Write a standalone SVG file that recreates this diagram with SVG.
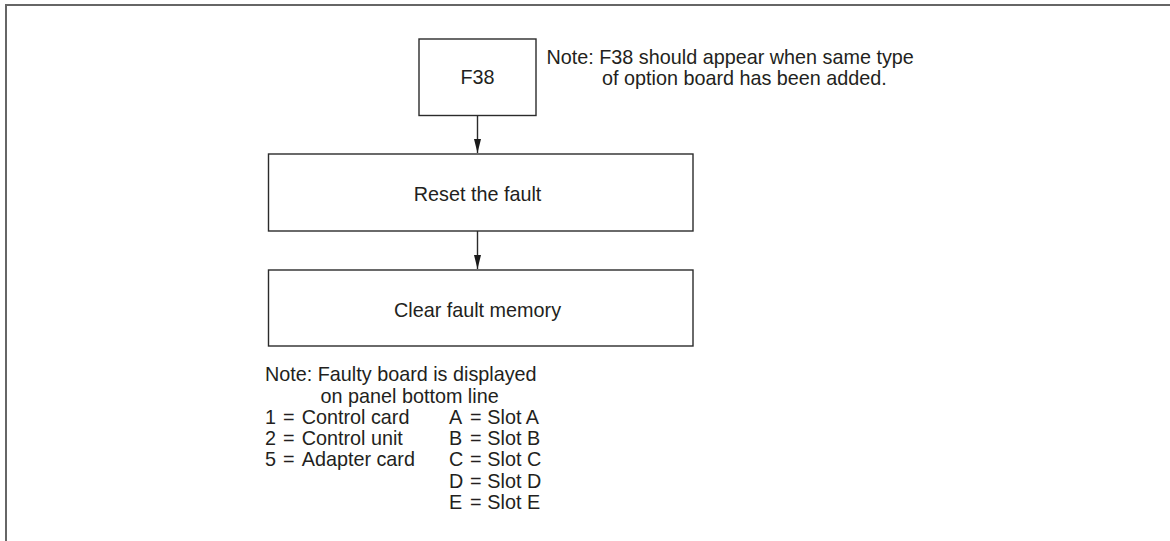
<svg xmlns="http://www.w3.org/2000/svg" width="1170" height="541" viewBox="0 0 1170 541">
  <style>
    .frame { fill: none; stroke: #666666; stroke-width: 2; }
    .box { fill: #ffffff; stroke: #2b2b2b; stroke-width: 1.4; }
    .conn { fill: none; stroke: #2b2b2b; stroke-width: 1.4; }
    text { font-family: "Liberation Sans", Arial, Helvetica, sans-serif; font-size: 19.8px; fill: #231f20; }
    .c { text-anchor: middle; }
  </style>
  <defs>
    <marker id="ah" viewBox="0 0 14 7" refX="14" refY="3.5" markerWidth="14" markerHeight="7" markerUnits="userSpaceOnUse" orient="auto">
      <path d="M0,0 L14,3.5 L0,7 Z" fill="#1a1a1a"/>
    </marker>
  </defs>

  <rect class="frame" x="6" y="5" width="1200" height="600"/>

  <g id="connectors">
    <line class="conn" x1="477.5" y1="115.5" x2="477.5" y2="153" marker-end="url(#ah)"/>
    <line class="conn" x1="477.5" y1="231" x2="477.5" y2="269" marker-end="url(#ah)"/>
  </g>

  <g id="node-f38">
    <rect class="box" x="419" y="39" width="117" height="76.5"/>
    <text class="c" x="477.5" y="84">F38</text>
  </g>

  <g id="note-top">
    <text x="546.5" y="64">Note: F38 should appear when same type</text>
    <text x="602" y="84.5">of option board has been added.</text>
  </g>

  <g id="node-reset">
    <rect class="box" x="268.5" y="154" width="424.5" height="77"/>
    <text class="c" x="477.5" y="200.5">Reset the fault</text>
  </g>

  <g id="node-clear">
    <rect class="box" x="268.5" y="270" width="424.5" height="76"/>
    <text class="c" x="477.5" y="316.5">Clear fault memory</text>
  </g>

  <g id="note-bottom">
    <text x="265" y="381">Note: Faulty board is displayed</text>
    <text x="320.5" y="402.5">on panel bottom line</text>

    <text x="265" y="424">1</text>
    <text x="283" y="424">=</text>
    <text x="301.7" y="424">Control card</text>
    <text x="265" y="445">2</text>
    <text x="283" y="445">=</text>
    <text x="301.7" y="445">Control unit</text>
    <text x="265" y="466">5</text>
    <text x="283" y="466">=</text>
    <text x="301.7" y="466">Adapter card</text>

    <text x="449" y="424">A</text>
    <text x="470" y="424">=</text>
    <text x="487.3" y="424">Slot A</text>
    <text x="449" y="445">B</text>
    <text x="470" y="445">=</text>
    <text x="487.3" y="445">Slot B</text>
    <text x="449" y="466">C</text>
    <text x="470" y="466">=</text>
    <text x="487.3" y="466">Slot C</text>
    <text x="449" y="487.5">D</text>
    <text x="470" y="487.5">=</text>
    <text x="487.3" y="487.5">Slot D</text>
    <text x="449" y="509">E</text>
    <text x="470" y="509">=</text>
    <text x="487.3" y="509">Slot E</text>
  </g>
</svg>
